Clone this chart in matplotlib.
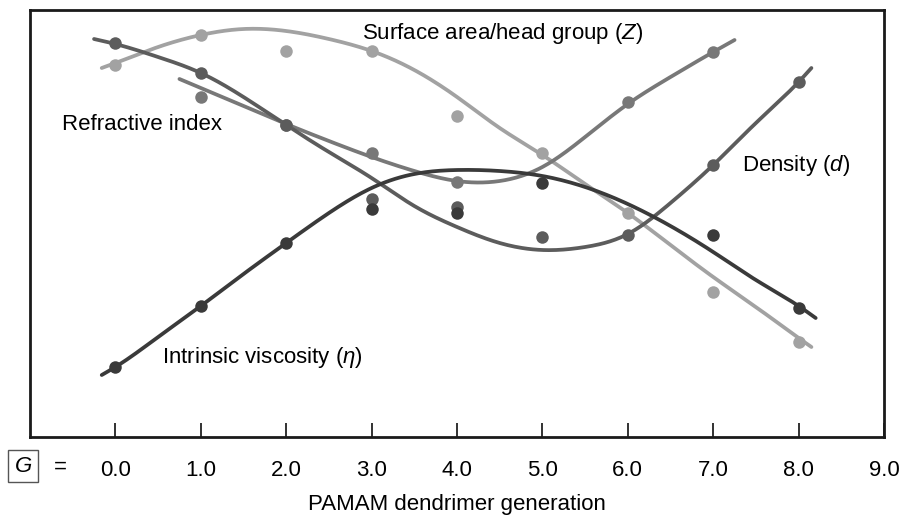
import numpy as np
import matplotlib
matplotlib.use("Agg")
import matplotlib.pyplot as plt

plt.rcParams["font.family"] = ["Liberation Sans", "DejaVu Sans"]
plt.rcParams["mathtext.fontset"] = "custom"
plt.rcParams["mathtext.it"] = "Liberation Sans:italic"
plt.rcParams["mathtext.rm"] = "Liberation Sans"

# ---- data (arbitrary property units) ---------------------------------------
gen = [0, 1, 2, 3, 4, 5, 6, 7, 8]

z_pts = [372, 402, 386, 386, 321, 284, 224, 145, 95]
ri_gen = [1, 2, 3, 4, 6, 7]
ri_pts = [340, 312, 284, 255, 335, 385]
d_pts = [394, 364, 312, 238, 230, 200, 202, 272, 355]
eta_gen = [0, 1, 2, 3, 4, 5, 7, 8]
eta_pts = [70, 131, 194, 228, 224, 254, 202, 129]

# fitted trend curves, sampled along the drawn lines
z_cx = [-0.16, 0, 0.5, 1, 1.5, 2, 2.5, 3, 3.5, 4, 4.5, 5, 5.5, 6, 6.5, 7, 7.5, 8, 8.15]
z_cy = [369, 374, 390, 402, 408, 406, 398, 386, 367, 340, 309, 282, 253, 224, 192, 160, 130, 99, 90]

ri_cx = [0.75, 1, 1.5, 2, 2.5, 3, 3.5, 4, 4.5, 5, 5.5, 6, 6.5, 7, 7.25]
ri_cy = [358, 349, 331, 313, 296, 280, 266, 256, 256, 270, 300, 333, 360, 385, 397]

d_cx = [-0.25, 0, 0.5, 1, 1.5, 2, 2.5, 3, 3.5, 4, 4.5, 5, 5.5, 6, 6.5, 7, 7.5, 8, 8.15]
d_cy = [398, 393, 380, 364, 340, 312, 285, 259, 231, 210, 194, 187, 190, 203, 234, 272, 314, 355, 369]

eta_cx = [-0.16, 0, 0.5, 1, 1.5, 2, 2.5, 3, 3.5, 4, 4.5, 5, 5.5, 6, 6.5, 7, 7.5, 8, 8.2]
eta_cy = [62, 70, 100, 131, 163, 194, 224, 249, 263, 267, 266, 261, 250, 233, 211, 185, 157, 131, 119]

tick_labels = ["0.0", "1.0", "2.0", "3.0", "4.0", "5.0", "6.0", "7.0", "8.0", "9.0"]

c_z = "#a2a2a2"
c_ri = "#787878"
c_d = "#5c5c5c"
c_eta = "#3a3a3a"


def smooth(xs, ys, n=400):
    # natural cubic spline through the sampled curve, only for drawing it
    x = np.asarray(xs, float)
    y = np.asarray(ys, float)
    m = len(x)
    h = np.diff(x)
    A = np.zeros((m, m))
    b = np.zeros(m)
    A[0, 0] = A[-1, -1] = 1
    for i in range(1, m - 1):
        A[i, i - 1] = h[i - 1]
        A[i, i] = 2 * (h[i - 1] + h[i])
        A[i, i + 1] = h[i]
        b[i] = 6 * ((y[i + 1] - y[i]) / h[i] - (y[i] - y[i - 1]) / h[i - 1])
    M = np.linalg.solve(A, b)
    xx = np.linspace(x[0], x[-1], n)
    k = np.clip(np.searchsorted(x, xx) - 1, 0, m - 2)
    t0 = x[k + 1] - xx
    t1 = xx - x[k]
    hk = h[k]
    yy = (M[k] * t0 ** 3 + M[k + 1] * t1 ** 3) / (6 * hk) \
        + (y[k] / hk - M[k] * hk / 6) * t0 + (y[k + 1] / hk - M[k + 1] * hk / 6) * t1
    return xx, yy


fig = plt.figure(figsize=(9.03, 5.16), dpi=100)
ax = fig.add_axes([30 / 903, 79 / 516, 854 / 903, 427 / 516])

lw = 2.7
ms = 9
for cx, cy, px, py, col in [
    (z_cx, z_cy, gen, z_pts, c_z),
    (ri_cx, ri_cy, ri_gen, ri_pts, c_ri),
    (d_cx, d_cy, gen, d_pts, c_d),
    (eta_cx, eta_cy, eta_gen, eta_pts, c_eta),
]:
    sx, sy = smooth(cx, cy)
    ax.plot(sx, sy, color=col, lw=lw, solid_capstyle="round", zorder=2)
    ax.plot(px, py, "o", color=col, ms=ms, mec="none", zorder=3)

fs = 16
ax.text(2.89, 404, "Surface area/head group ($Z$)", fontsize=fs, va="center", ha="left")
ax.text(-0.62, 312, "Refractive index", fontsize=fs, va="center", ha="left")
ax.text(7.34, 272, "Density ($d$)", fontsize=fs, va="center", ha="left")
ax.text(0.54, 79, r"Intrinsic viscosity ($\eta$)", fontsize=fs, va="center", ha="left")

ax.set_xlim(-1, 9)
ax.set_ylim(0, 427)
ax.set_yticks([])
ax.set_xticks(range(len(tick_labels)))
ax.set_xticklabels(tick_labels, fontsize=fs)
ax.tick_params(axis="x", direction="in", length=10, width=1.3, pad=16.5, colors="#222222")
ax.tick_params(axis="x", labelcolor="black")
for s in ax.spines.values():
    s.set_linewidth(2.0)
    s.set_color("#1a1a1a")
ax.set_xlabel("PAMAM dendrimer generation", fontsize=fs, labelpad=9.5)

fig.text(23 / 903, 1 - 466 / 516, "$G$", fontsize=fs, ha="center", va="center",
         bbox=dict(boxstyle="square,pad=0.25", fc="white", ec="#555555", lw=1))
fig.text(60 / 903, 1 - 467 / 516, "=", fontsize=fs, ha="center", va="center")

fig.savefig("out.png", dpi=100)
